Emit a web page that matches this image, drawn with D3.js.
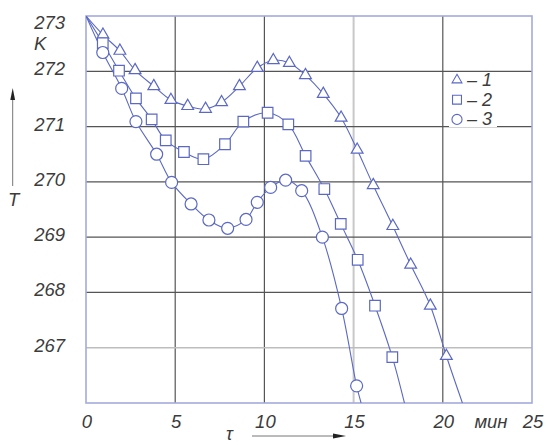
<!DOCTYPE html>
<html>
<head>
<meta charset="utf-8">
<script src="https://cdn.jsdelivr.net/npm/d3@7"></script>
<style>
  body { margin: 0; background: #fff; }
  svg text { font-family: "Liberation Sans", Arial, sans-serif; font-style: italic; fill: #3c3c3c; }
</style>
</head>
<body>
<svg width="548" height="445"></svg>
<script>
// readings: [time, min ; temperature, K]
const series1 = [[0.95,272.66],[1.9,272.37],[2.75,272.02],[3.8,271.73],[4.76,271.48],[5.7,271.37],
  [6.7,271.32],[7.6,271.44],[8.6,271.73],[9.6,272.06],[10.5,272.2],[11.4,272.15],[12.3,271.93],
  [13.3,271.59],[14.3,271.16],[15.2,270.58],[16.1,269.94],[17.2,269.2],[18.2,268.5],[19.3,267.76],[20.2,266.85]];
const series2 = [[0.94,272.51],[1.85,272.01],[2.8,271.51],[3.68,271.13],[4.47,270.75],[5.49,270.54],
  [6.58,270.41],[7.79,270.68],[8.82,271.09],[10.18,271.25],[11.34,271.04],[12.31,270.47],
  [13.36,269.87],[14.28,269.24],[15.23,268.59],[16.2,267.76],[17.17,266.83]];
const series3 = [[0.94,272.34],[2.0,271.69],[2.8,271.09],[3.96,270.5],[4.8,269.99],[5.89,269.6],
  [6.89,269.31],[7.94,269.16],[8.97,269.32],[9.6,269.63],[10.35,269.9],[11.19,270.03],
  [12.09,269.84],[13.25,269.0],[14.33,267.71],[15.17,266.31]];
const lineStart = [0, 273];
const lineEnds = [[21.1, 266], [17.85, 266], [15.42, 266]];
const seriesNames = ["1", "2", "3"];
const xTicks = [0, 5, 10, 15, 20, 25];
const yTicks = [273, 272, 271, 270, 269, 268, 267];

const svg = d3.select("svg");
const x = d3.scaleLinear().domain([0, 25]).range([86, 532]);
const y = d3.scaleLinear().domain([266, 273]).range([403, 16]);
const blue = "#5b69c4";

// grid
svg.selectAll(".vgrid").data([5, 10, 15, 20]).enter().append("line")
  .attr("x1", d => x(d)).attr("x2", d => x(d)).attr("y1", y(273)).attr("y2", y(266))
  .attr("stroke", d => d === 15 ? "#c8c8c8" : "#555")
  .attr("stroke-width", d => d === 15 ? 2 : 1.2);
svg.selectAll(".hgrid").data([272, 271, 270, 269, 268, 267]).enter().append("line")
  .attr("x1", x(0)).attr("x2", x(25)).attr("y1", d => y(d)).attr("y2", d => y(d))
  .attr("stroke", d => d === 267 ? "#bdbdbd" : "#555")
  .attr("stroke-width", d => d === 267 ? 1.5 : 1.2);

svg.append("rect")
  .attr("x", x(0)).attr("y", y(273)).attr("width", x(25) - x(0)).attr("height", y(266) - y(273))
  .attr("fill", "none").attr("stroke", "#a3abdd").attr("stroke-width", 1.6);

// curves
svg.append("clipPath").attr("id", "plot").append("rect")
  .attr("x", x(0)).attr("y", y(273)).attr("width", x(25) - x(0)).attr("height", y(266) - y(273));

const line = d3.line().x(d => x(d[0])).y(d => y(d[1])).curve(d3.curveCatmullRom.alpha(0.5));
const allSeries = [series1, series2, series3];
allSeries.forEach((s, i) => {
  svg.append("path")
    .datum([lineStart].concat(s, [lineEnds[i]]))
    .attr("clip-path", "url(#plot)")
    .attr("fill", "none").attr("stroke", blue).attr("stroke-width", 1.1)
    .attr("d", line);
});

const symbols = [d3.symbol().type(d3.symbolTriangle).size(60),
                 d3.symbol().type(d3.symbolSquare).size(112),
                 d3.symbol().type(d3.symbolCircle).size(113)];
allSeries.forEach((s, i) => {
  svg.selectAll(".m" + i).data(s).enter().append("path")
    .attr("transform", d => `translate(${x(d[0])},${y(d[1])})`)
    .attr("d", symbols[i]())
    .attr("fill", "#fff").attr("stroke", blue).attr("stroke-width", 1.2);
});

// legend
const legend = svg.append("g").attr("transform", "translate(457,80)");
legend.append("rect").attr("x", -8).attr("y", -7).attr("width", 48).attr("height", 54).attr("fill", "#fff");
const legendSymbols = [d3.symbol().type(d3.symbolTriangle).size(42),
                       d3.symbol().type(d3.symbolSquare).size(80),
                       d3.symbol().type(d3.symbolCircle).size(80)];
seriesNames.forEach((n, i) => {
  const row = legend.append("g").attr("transform", `translate(0,${i * 19.7})`);
  row.append("path").attr("d", legendSymbols[i]()).attr("fill", "#fff")
    .attr("stroke", blue).attr("stroke-width", 1.1);
  row.append("text").attr("x", 10).attr("y", 6).attr("font-size", 18).text("– " + n);
});

// axis labels
svg.selectAll(".ylab").data(yTicks).enter().append("text")
  .attr("x", 65).attr("y", d => d === 273 ? 29 : y(d) + 4)
  .attr("text-anchor", "end").attr("font-size", 18.5).text(d => d);
svg.append("text").attr("x", 34).attr("y", 50).attr("font-size", 18.5).text("K");

svg.selectAll(".xlab").data(xTicks).enter().append("text")
  .attr("x", d => x(d) + 1).attr("y", 428)
  .attr("text-anchor", "middle").attr("font-size", 18.5).text(d => d);
svg.append("text").attr("x", x(22.7)).attr("y", 428).attr("text-anchor", "middle")
  .attr("font-size", 18.5).text("мин");

// axis arrows
svg.append("line").attr("x1", 12.7).attr("x2", 12.7).attr("y1", 186).attr("y2", 96)
  .attr("stroke", "#777").attr("stroke-width", 1);
svg.append("path").attr("d", "M12.7,88 L10.3,100 L15.1,100 Z").attr("fill", "#222");
svg.append("text").attr("x", 8).attr("y", 206).attr("font-size", 18.5).text("T");

svg.append("line").attr("x1", 252).attr("x2", 336).attr("y1", 436).attr("y2", 436)
  .attr("stroke", "#777").attr("stroke-width", 1);
svg.append("path").attr("d", "M346,436 L333,433.6 L333,438.4 Z").attr("fill", "#222");
svg.append("text").attr("x", 226).attr("y", 440).attr("font-size", 18).text("τ");
</script>
</body>
</html>
